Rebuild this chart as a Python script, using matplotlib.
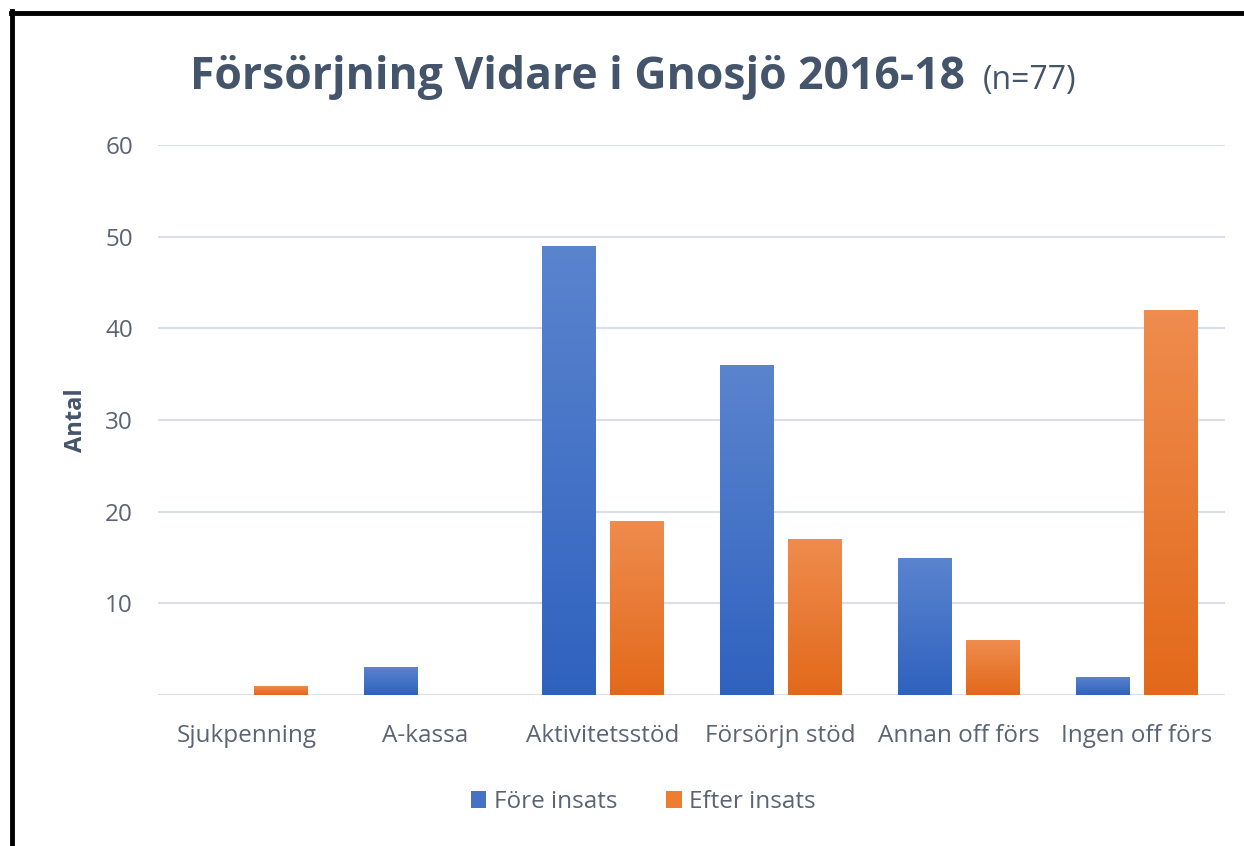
"""
Försörjning Vidare i Gnosjö 2016-18 - stapeldiagram
"""
import numpy as np
import matplotlib
matplotlib.use('Agg')
import matplotlib.pyplot as plt
from matplotlib.colors import LinearSegmentedColormap
from matplotlib.lines import Line2D
from matplotlib.patches import Patch

plt.rcParams['font.family'] = ['Open Sans', 'DejaVu Sans']

categories = ['Sjukpenning', 'A-kassa', 'Aktivitetsstöd', 'Försörjn stöd',
              'Annan off förs', 'Ingen off förs']
fore = [0, 3, 49, 36, 15, 2]
efter = [1, 0, 19, 17, 6, 42]
series_names = ['Före insats', 'Efter insats']
yticks = [0, 10, 20, 30, 40, 50, 60]
ytick_labels = ['', '10', '20', '30', '40', '50', '60']

TEXT = '#44546A'
TICK = '#5B6474'
GRID = '#D9DEE8'

# gradient: ljusare upptill, mörkare nedtill
blue_cmap = LinearSegmentedColormap.from_list('b', ['#2F62BF', '#5B84CE'])
orange_cmap = LinearSegmentedColormap.from_list('o', ['#E2691A', '#EF8C4E'])

fig = plt.figure(figsize=(12.44, 8.46), dpi=100)
ax = fig.add_axes([0.127, 0.1785, 0.858, 0.650])

x = np.arange(len(categories))
width = 0.30
offset = 0.19


def gradient_bars(xpos, values, cmap, solid):
    bars = ax.bar(xpos, values, width, color=solid, zorder=3)
    grad = np.linspace(0, 1, 256).reshape(-1, 1)
    for bar in bars:
        h = bar.get_height()
        if h <= 0:
            continue
        x0 = bar.get_x()
        im = ax.imshow(grad, cmap=cmap, origin='lower', aspect='auto',
                       extent=[x0, x0 + bar.get_width(), 0, h], zorder=4)
        im.set_clip_path(bar)
    return bars


gradient_bars(x - offset, fore, blue_cmap, '#4472C4')
gradient_bars(x + offset, efter, orange_cmap, '#ED7D31')

ax.set_xlim(-0.5, len(categories) - 0.5)
ax.set_ylim(0, 60)
ax.set_yticks(yticks)
ax.set_yticklabels(ytick_labels)
ax.set_xticks(x)
ax.set_xticklabels(categories, fontsize=18.5)
ax.tick_params(axis='both', length=0, labelsize=17.5, labelcolor=TICK)
ax.tick_params(axis='x', pad=21)
ax.tick_params(axis='y', pad=18)
ax.grid(True, axis='y', color=GRID, linewidth=1.5, zorder=0)
for s in ax.spines.values():
    s.set_visible(False)

ax.set_ylabel('Antal', fontsize=17, fontweight='bold', color=TEXT)
ax.yaxis.set_label_coords(-0.066, 0.5)

# titel
fig.text(0.1527, 0.8948, 'Försörjning Vidare i Gnosjö 2016-18', fontsize=32,
         fontweight='bold', color=TEXT, ha='left', va='baseline')
fig.text(0.790, 0.8948, '(n=77)', fontsize=23, color=TEXT, ha='left', va='baseline')

# legend
handles = [Patch(facecolor='#4472C4'), Patch(facecolor='#ED7D31')]
fig.legend(handles, series_names, loc='center', bbox_to_anchor=(0.517, 0.052),
           ncol=2, frameon=False, fontsize=17.5, labelcolor=TICK,
           handlelength=0.65, handleheight=0.65, handletextpad=0.3, columnspacing=2.0)

# ram
fig.add_artist(Line2D([0.009, 1.0], [0.985, 0.985], color='black', linewidth=3.5,
                      transform=fig.transFigure))
fig.add_artist(Line2D([0.0097, 0.0097], [0.0, 0.987], color='black', linewidth=3.5,
                      transform=fig.transFigure))

plt.savefig('out.png', dpi=100)
plt.close()
